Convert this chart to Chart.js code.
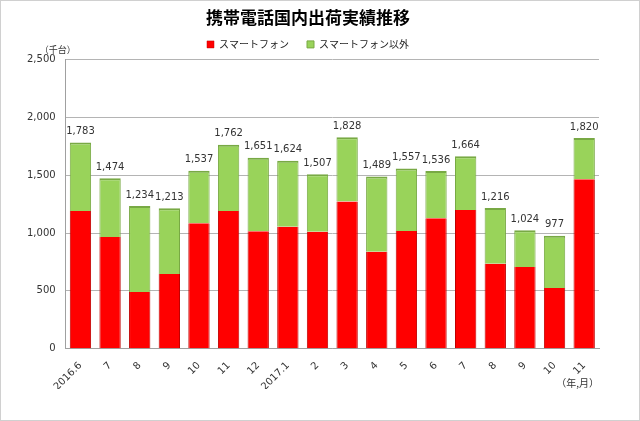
<!DOCTYPE html>
<html>
<head>
<meta charset="utf-8">
<script src="https://cdn.jsdelivr.net/npm/chart.js@4"></script>
<style>
  body { margin: 0; background: #fff; }
  #wrap { width: 638px; height: 419px; border: 1px solid #d0d0d0; }
</style>
</head>
<body>
<div id="wrap"><canvas id="shipChart" width="638" height="419"></canvas></div>
<script>
// 月 (年.月)
const months = ['2016.6', '7', '8', '9', '10', '11', '12', '2017.1', '2', '3', '4', '5', '6', '7', '8', '9', '10', '11'];
// 合計 (千台)
const totals = [1783, 1474, 1234, 1213, 1537, 1762, 1651, 1624, 1507, 1828, 1489, 1557, 1536, 1664, 1216, 1024, 977, 1820];
// スマートフォン (千台)
const smartphone = [1190, 965, 490, 645, 1085, 1190, 1015, 1055, 1010, 1272, 838, 1018, 1128, 1198, 735, 706, 524, 1464];
// スマートフォン以外 = 合計 - スマートフォン
const otherPhone = totals.map((t, i) => t - smartphone[i]);
const yTicks = [0, 500, 1000, 1500, 2000, 2500];

const jpFont = "'Noto Sans CJK JP', sans-serif";
const numFont = "'DejaVu Sans', sans-serif";

// 合計値と単位ラベルを描く
const totalLabels = {
    id: 'totalLabels',
    afterDatasetsDraw(chart) {
        const ctx = chart.ctx;
        const meta = chart.getDatasetMeta(1);
        ctx.save();
        ctx.font = '10px ' + numFont;
        ctx.fillStyle = '#333';
        ctx.textAlign = 'center';
        ctx.textBaseline = 'bottom';
        meta.data.forEach((bar, i) => {
            ctx.fillText(totals[i].toLocaleString('en-US'), bar.x, bar.y - 6);
        });
        // 単位
        ctx.font = '9px ' + jpFont;
        ctx.fillStyle = '#333';
        ctx.textAlign = 'left';
        ctx.fillText('（千台）', chart.chartArea.left - 26, chart.chartArea.top - 5);
        ctx.restore();
    }
};

new Chart(document.getElementById('shipChart').getContext('2d'), {
    type: 'bar',
    data: {
        labels: months,
        datasets: [{
            label: 'スマートフォン',
            data: smartphone,
            backgroundColor: '#ff0000',
            borderColor: '#c00000',
            borderWidth: { left: 1, right: 1, top: 0, bottom: 0 },
            categoryPercentage: 1.0,
            barPercentage: 0.72
        }, {
            label: 'スマートフォン以外',
            data: otherPhone,
            backgroundColor: '#99d35a',
            borderColor: '#78a944',
            borderWidth: { left: 1, right: 1, top: 2, bottom: 0 },
            categoryPercentage: 1.0,
            barPercentage: 0.72
        }]
    },
    options: {
        responsive: false,
        animation: false,
        layout: { padding: { left: 16, right: 40, top: 0, bottom: 31 } },
        plugins: {
            title: {
                display: true,
                text: '携帯電話国内出荷実績推移',
                font: { family: jpFont, size: 17, weight: 'bold' },
                color: '#000',
                padding: { top: 6, bottom: -6 }
            },
            legend: {
                display: true,
                labels: {
                    font: { family: jpFont, size: 10 },
                    color: '#222',
                    boxWidth: 7,
                    boxHeight: 7,
                    padding: 18
                }
            },
            tooltip: { enabled: false }
        },
        scales: {
            x: {
                stacked: true,
                grid: { display: false },
                border: { color: '#a0a0a0' },
                ticks: {
                    font: { family: numFont, size: 10 },
                    color: '#333',
                    maxRotation: 45,
                    minRotation: 45,
                    autoSkip: false
                },
                title: {
                    display: true,
                    text: '（年,月）',
                    align: 'end',
                    font: { family: jpFont, size: 10 },
                    color: '#333',
                    padding: { top: -19, bottom: 0 }
                }
            },
            y: {
                stacked: true,
                min: 0,
                max: 2500,
                afterBuildTicks(scale) {
                    scale.ticks = yTicks.map(v => ({ value: v }));
                },
                grid: { color: '#b4b4b4', drawTicks: false },
                border: { color: '#a0a0a0' },
                ticks: {
                    font: { family: numFont, size: 10 },
                    color: '#333',
                    padding: 10,
                    callback: v => v.toLocaleString('en-US')
                }
            }
        }
    },
    plugins: [totalLabels]
});
</script>
</body>
</html>
